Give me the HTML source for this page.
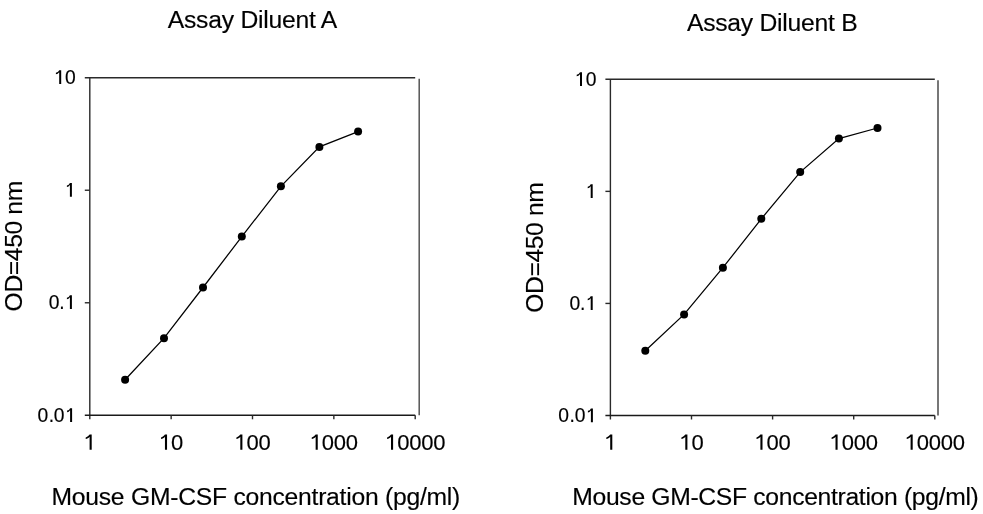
<!DOCTYPE html>
<html><head><meta charset="utf-8"><style>
html,body{margin:0;padding:0;background:#fff;width:983px;height:514px;overflow:hidden}
svg{display:block;will-change:transform}
.d{font-family:"Liberation Sans",sans-serif;fill:#000}
.h{font-family:"Liberation Sans",sans-serif;font-size:24.7px;letter-spacing:-0.25px;fill:#000;stroke:#000;stroke-width:0.15px}
.d{stroke:#000;stroke-width:0.15px}
.nb{letter-spacing:-0.32px}
.v{letter-spacing:-0.4px}
</style></head><body>
<svg width="983" height="514" viewBox="0 0 983 514">
<rect width="983" height="514" fill="#fff"/>
<path d="M84.8 77.7H415.2" stroke="#2a2a2a" stroke-width="1.4" fill="none"/>
<path d="M419.2 78.7V415.3" stroke="#555" stroke-width="1.5" fill="none"/>
<path d="M89.8 77.7V419.3" stroke="#2a2a2a" stroke-width="1.4" fill="none"/>
<path d="M84.8 415.3H415.2" stroke="#1a1a1a" stroke-width="1.4" fill="none"/>
<path d="M84.8 190.23H89.8" stroke="#2a2a2a" stroke-width="1.4"/>
<path d="M84.8 302.77H89.8" stroke="#2a2a2a" stroke-width="1.4"/>
<path d="M171.15 415.3V419.3" stroke="#2a2a2a" stroke-width="1.4"/>
<path d="M252.50 415.3V419.3" stroke="#2a2a2a" stroke-width="1.4"/>
<path d="M333.85 415.3V419.3" stroke="#2a2a2a" stroke-width="1.4"/>
<path d="M415.20 415.3V419.3" stroke="#2a2a2a" stroke-width="1.4"/>
<path d="M125.1 379.8 L164.0 338.2 L203.0 287.5 L241.8 236.6 L280.9 186.3 L319.4 146.9 L358.1 131.6" stroke="#000" stroke-width="1.25" fill="none"/>
<circle cx="125.1" cy="379.8" r="4.0" fill="#000"/>
<circle cx="164.0" cy="338.2" r="4.0" fill="#000"/>
<circle cx="203.0" cy="287.5" r="4.0" fill="#000"/>
<circle cx="241.8" cy="236.6" r="4.0" fill="#000"/>
<circle cx="280.9" cy="186.3" r="4.0" fill="#000"/>
<circle cx="319.4" cy="146.9" r="4.0" fill="#000"/>
<circle cx="358.1" cy="131.6" r="4.0" fill="#000"/>
<path d="M59.20 70.30H61.20V83.90H59.20V72.27C58.00 73.46 57.50 74.24 55.90 74.24V72.64C58.10 72.34 58.40 71.20 59.20 70.30Z" fill="#000"/>
<text x="64.95" y="83.90" style="font-size:19.3px" class="d">0</text>
<path d="M69.90 183.10H71.90V196.70H69.90V185.07C68.70 186.26 68.50 187.04 66.90 187.04V185.44C69.10 185.14 69.10 184.00 69.90 183.10Z" fill="#000"/>
<text x="48.75" y="308.90" style="font-size:19.3px" class="d">0</text>
<text x="59.24" y="308.90" style="font-size:19.3px" class="d">.</text>
<path d="M69.90 295.30H71.90V308.90H69.90V297.27C68.70 298.46 68.50 299.24 66.90 299.24V297.64C69.10 297.34 69.10 296.20 69.90 295.30Z" fill="#000"/>
<text x="37.55" y="421.90" style="font-size:19.3px" class="d">0</text>
<text x="48.74" y="421.90" style="font-size:19.3px" class="d">.</text>
<text x="53.85" y="421.90" style="font-size:19.3px" class="d">0</text>
<path d="M70.10 408.20H72.10V421.90H70.10V410.19C68.90 411.38 68.70 412.17 67.10 412.17V410.57C69.30 410.27 69.30 409.10 70.10 408.20Z" fill="#000"/>
<path d="M89.60 434.60H91.70V449.70H89.60V436.79C88.40 438.10 87.30 438.98 85.70 438.98V437.38C87.90 437.08 88.80 435.50 89.60 434.60Z" fill="#000"/>
<path d="M164.95 434.60H167.05V449.70H164.95V436.79C163.75 438.10 162.65 438.98 161.05 438.98V437.38C163.25 437.08 164.15 435.50 164.95 434.60Z" fill="#000"/>
<text x="171.09" y="450.00" style="font-size:22.0px" class="d">0</text>
<path d="M240.30 434.60H242.40V449.70H240.30V436.79C239.10 438.10 238.00 438.98 236.40 438.98V437.38C238.60 437.08 239.50 435.50 240.30 434.60Z" fill="#000"/>
<text x="246.44" y="450.00" style="font-size:22.0px" class="d">0</text>
<text x="258.44" y="450.00" style="font-size:22.0px" class="d">0</text>
<path d="M315.65 434.60H317.75V449.70H315.65V436.79C314.45 438.10 313.35 438.98 311.75 438.98V437.38C313.95 437.08 314.85 435.50 315.65 434.60Z" fill="#000"/>
<text x="321.79" y="450.00" style="font-size:22.0px" class="d">0</text>
<text x="333.79" y="450.00" style="font-size:22.0px" class="d">0</text>
<text x="345.79" y="450.00" style="font-size:22.0px" class="d">0</text>
<path d="M391.00 434.60H393.10V449.70H391.00V436.79C389.80 438.10 388.70 438.98 387.10 438.98V437.38C389.30 437.08 390.20 435.50 391.00 434.60Z" fill="#000"/>
<text x="397.14" y="450.00" style="font-size:22.0px" class="d">0</text>
<text x="409.14" y="450.00" style="font-size:22.0px" class="d">0</text>
<text x="421.14" y="450.00" style="font-size:22.0px" class="d">0</text>
<text x="433.14" y="450.00" style="font-size:22.0px" class="d">0</text>
<text x="252.4" y="28" text-anchor="middle" class="h">Assay Diluent A</text>
<text x="255.8" y="505" text-anchor="middle" class="h">Mouse GM-CSF concentration (pg/ml)</text>
<text transform="translate(22.3 246.3) rotate(-90)" x="0" y="0" text-anchor="middle" class="h v">OD=450 nm</text>
<path d="M605.4 79.3H934.8" stroke="#2a2a2a" stroke-width="1.4" fill="none"/>
<path d="M938.0 80.3V415.5" stroke="#777" stroke-width="2.0" fill="none"/>
<path d="M610.4 79.3V419.5" stroke="#2a2a2a" stroke-width="1.4" fill="none"/>
<path d="M605.4 415.5H934.8" stroke="#1a1a1a" stroke-width="1.4" fill="none"/>
<path d="M605.4 191.37H610.4" stroke="#2a2a2a" stroke-width="1.4"/>
<path d="M605.4 303.43H610.4" stroke="#2a2a2a" stroke-width="1.4"/>
<path d="M691.50 415.5V419.5" stroke="#2a2a2a" stroke-width="1.4"/>
<path d="M772.60 415.5V419.5" stroke="#2a2a2a" stroke-width="1.4"/>
<path d="M853.70 415.5V419.5" stroke="#2a2a2a" stroke-width="1.4"/>
<path d="M934.80 415.5V419.5" stroke="#2a2a2a" stroke-width="1.4"/>
<path d="M645.3 350.8 L684.1 314.4 L722.9 267.7 L761.3 218.8 L800.2 172.1 L838.9 138.6 L877.5 128.0" stroke="#000" stroke-width="1.25" fill="none"/>
<circle cx="645.3" cy="350.8" r="4.0" fill="#000"/>
<circle cx="684.1" cy="314.4" r="4.0" fill="#000"/>
<circle cx="722.9" cy="267.7" r="4.0" fill="#000"/>
<circle cx="761.3" cy="218.8" r="4.0" fill="#000"/>
<circle cx="800.2" cy="172.1" r="4.0" fill="#000"/>
<circle cx="838.9" cy="138.6" r="4.0" fill="#000"/>
<circle cx="877.5" cy="128.0" r="4.0" fill="#000"/>
<path d="M580.00 72.30H582.00V85.90H580.00V74.27C578.80 75.46 578.30 76.24 576.70 76.24V74.64C578.90 74.34 579.20 73.20 580.00 72.30Z" fill="#000"/>
<text x="585.75" y="85.90" style="font-size:19.3px" class="d">0</text>
<path d="M590.70 184.30H592.70V197.90H590.70V186.27C589.50 187.46 589.30 188.24 587.70 188.24V186.64C589.90 186.34 589.90 185.20 590.70 184.30Z" fill="#000"/>
<text x="569.55" y="309.90" style="font-size:19.3px" class="d">0</text>
<text x="580.04" y="309.90" style="font-size:19.3px" class="d">.</text>
<path d="M590.70 296.30H592.70V309.90H590.70V298.27C589.50 299.46 589.30 300.24 587.70 300.24V298.64C589.90 298.34 589.90 297.20 590.70 296.30Z" fill="#000"/>
<text x="558.35" y="422.20" style="font-size:19.3px" class="d">0</text>
<text x="569.54" y="422.20" style="font-size:19.3px" class="d">.</text>
<text x="574.65" y="422.20" style="font-size:19.3px" class="d">0</text>
<path d="M590.90 408.50H592.90V422.20H590.90V410.49C589.70 411.68 589.50 412.47 587.90 412.47V410.87C590.10 410.57 590.10 409.40 590.90 408.50Z" fill="#000"/>
<path d="M610.20 434.60H612.30V449.70H610.20V436.79C609.00 438.10 607.90 438.98 606.30 438.98V437.38C608.50 437.08 609.40 435.50 610.20 434.60Z" fill="#000"/>
<path d="M685.30 434.60H687.40V449.70H685.30V436.79C684.10 438.10 683.00 438.98 681.40 438.98V437.38C683.60 437.08 684.50 435.50 685.30 434.60Z" fill="#000"/>
<text x="691.44" y="450.00" style="font-size:22.0px" class="d">0</text>
<path d="M760.40 434.60H762.50V449.70H760.40V436.79C759.20 438.10 758.10 438.98 756.50 438.98V437.38C758.70 437.08 759.60 435.50 760.40 434.60Z" fill="#000"/>
<text x="766.54" y="450.00" style="font-size:22.0px" class="d">0</text>
<text x="778.54" y="450.00" style="font-size:22.0px" class="d">0</text>
<path d="M835.50 434.60H837.60V449.70H835.50V436.79C834.30 438.10 833.20 438.98 831.60 438.98V437.38C833.80 437.08 834.70 435.50 835.50 434.60Z" fill="#000"/>
<text x="841.64" y="450.00" style="font-size:22.0px" class="d">0</text>
<text x="853.64" y="450.00" style="font-size:22.0px" class="d">0</text>
<text x="865.64" y="450.00" style="font-size:22.0px" class="d">0</text>
<path d="M910.60 434.60H912.70V449.70H910.60V436.79C909.40 438.10 908.30 438.98 906.70 438.98V437.38C908.90 437.08 909.80 435.50 910.60 434.60Z" fill="#000"/>
<text x="916.74" y="450.00" style="font-size:22.0px" class="d">0</text>
<text x="928.74" y="450.00" style="font-size:22.0px" class="d">0</text>
<text x="940.74" y="450.00" style="font-size:22.0px" class="d">0</text>
<text x="952.74" y="450.00" style="font-size:22.0px" class="d">0</text>
<text x="772.2" y="30.8" text-anchor="middle" class="h">Assay Diluent B</text>
<text x="775.4" y="505" text-anchor="middle" class="h nb">Mouse GM-CSF concentration (pg/ml)</text>
<text transform="translate(543.0 247.7) rotate(-90)" x="0" y="0" text-anchor="middle" class="h v">OD=450 nm</text>
</svg>
</body></html>
